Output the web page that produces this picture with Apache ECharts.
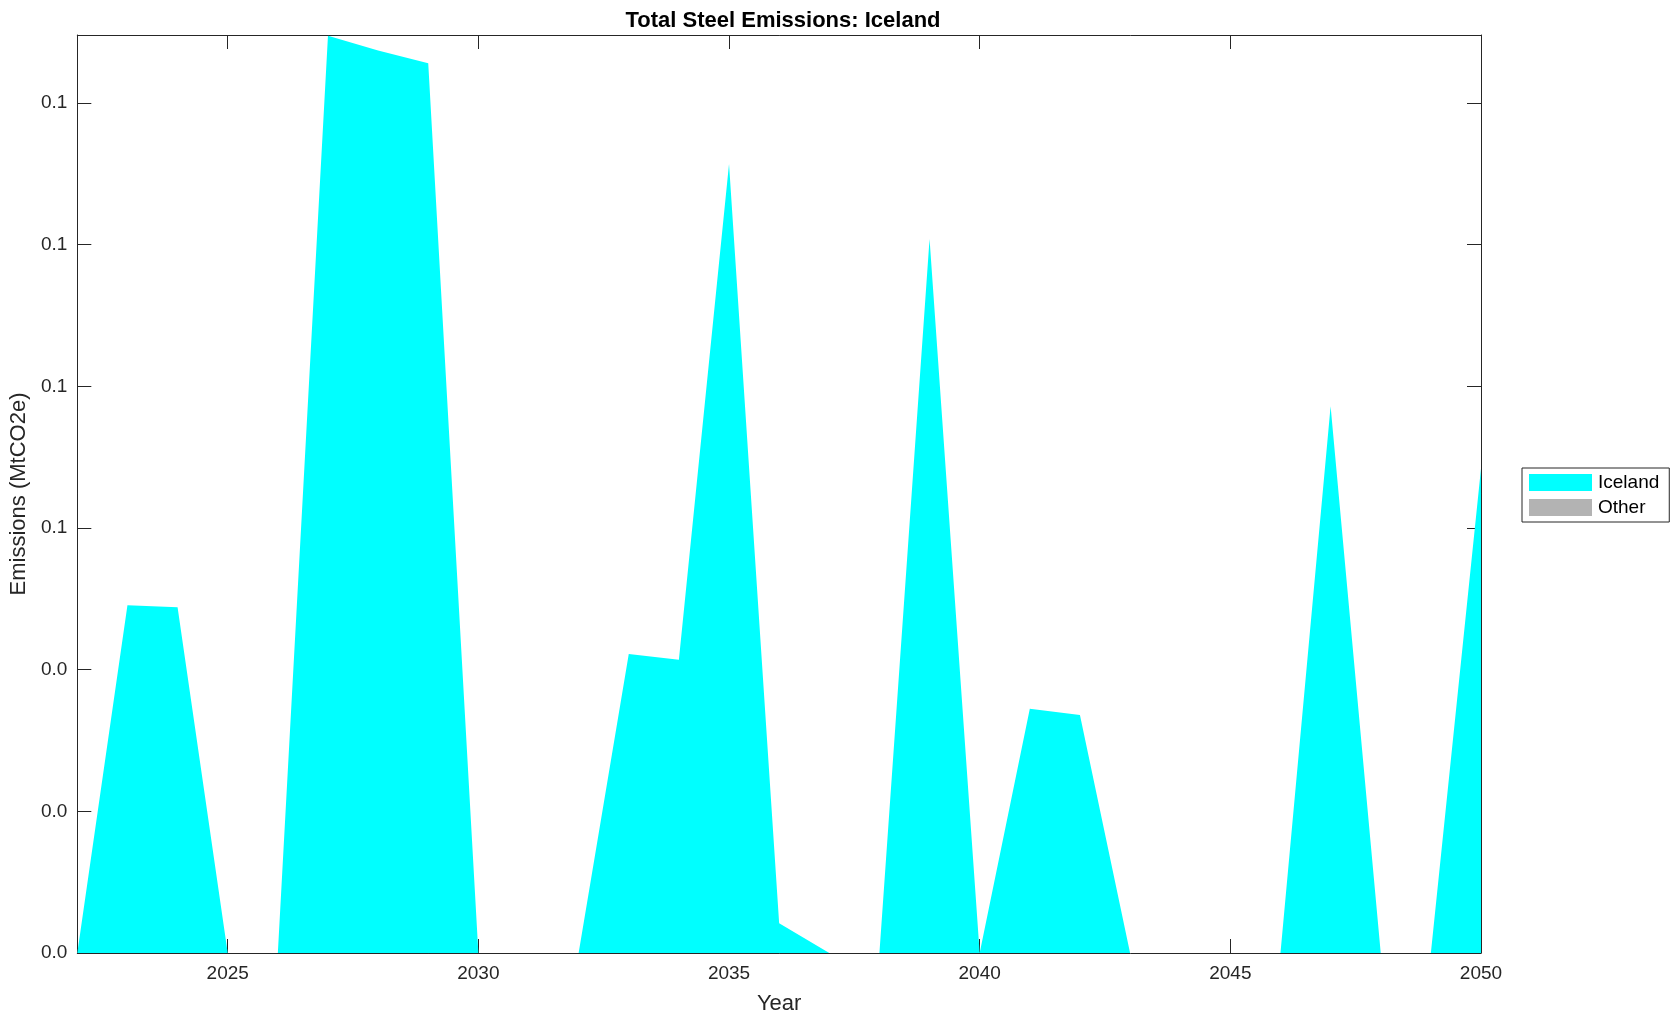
<!DOCTYPE html>
<html>
<head>
<meta charset="utf-8">
<script src="https://cdn.jsdelivr.net/npm/echarts@6/dist/echarts.min.js"></script>
<style>
  html, body { margin: 0; padding: 0; background: #fff; }
  #chart { width: 1679px; height: 1021px; }
</style>
</head>
<body>
<div id="chart"></div>
<script>
const years = [];
for (let y = 2022; y <= 2050; y++) years.push(String(y));

// MtCO2e, 2022..2050
const iceland = [0, 0.0491, 0.0488, 0, 0, 0.1295, 0.1274, 0.1256, 0, 0,
  0, 0.0422, 0.0414, 0.1114, 0.0042, 0, 0, 0.1008, 0, 0.0345,
  0.0336, 0, 0, 0, 0, 0.0772, 0, 0, 0.0684];
const other = years.map(() => 0);

const yMax = 0.1296;

const textColor = '#262626';
const font = 'Liberation Sans, Arial, Helvetica, sans-serif';

let chart = echarts.init(document.getElementById('chart'));

const showTick = (i, v) => Number(v) % 5 === 0;

let xBase = {
  type: 'category',
  data: years,
  boundaryGap: false,
  axisLine: { show: true, onZero: false, lineStyle: { color: textColor, width: 1 } },
  axisTick: { show: true, inside: true, length: 14, interval: showTick, lineStyle: { color: textColor } },
  splitLine: { show: false }
};

let yBase = {
  type: 'value',
  min: 0,
  max: yMax,
  interval: 0.02,
  axisLine: { show: true, onZero: false, lineStyle: { color: textColor, width: 1 } },
  axisTick: { show: true, inside: true, length: 14, lineStyle: { color: textColor } },
  splitLine: { show: false }
};

let option = {
  animation: false,
  backgroundColor: '#fff',
  title: {
    text: 'Total Steel Emissions: Iceland',
    left: 778,
    top: 5,
    textAlign: 'center',
    textStyle: { fontFamily: font, fontSize: 22, fontWeight: 'bold', color: '#000' }
  },
  legend: {
    orient: 'vertical',
    left: 1522,
    top: 468,
    icon: 'rect',
    itemWidth: 63,
    itemHeight: 17,
    itemGap: 6,
    padding: [5, 10, 5, 7],
    borderColor: textColor,
    borderWidth: 1,
    textStyle: { fontFamily: font, fontSize: 19, color: '#000', padding: [0, 0, 0, 1] },
    data: ['Iceland', 'Other']
  },
  grid: { left: 76, top: 35, width: 1405, height: 918, containLabel: false },
  xAxis: [
    Object.assign({}, xBase, {
      position: 'bottom',
      name: 'Year',
      nameLocation: 'middle',
      nameGap: 40,
      nameTextStyle: { fontFamily: font, fontSize: 22, color: textColor },
      axisLabel: { show: true, interval: showTick, margin: 11, fontFamily: font, fontSize: 19, color: textColor }
    }),
    Object.assign({}, xBase, { position: 'top', axisLabel: { show: false } })
  ],
  yAxis: [
    Object.assign({}, yBase, {
      position: 'left',
      name: 'Emissions (MtCO2e)',
      nameLocation: 'middle',
      nameGap: 46,
      nameTextStyle: { fontFamily: font, fontSize: 22, color: textColor },
      axisLabel: {
        show: true, margin: 10, fontFamily: font, fontSize: 19, color: textColor,
        showMaxLabel: false,
        formatter: v => v.toFixed(1)
      }
    }),
    Object.assign({}, yBase, { position: 'right', axisLabel: { show: false } })
  ],
  series: [
    {
      name: 'Iceland',
      type: 'line',
      stack: 'total',
      data: iceland,
      showSymbol: false,
      symbol: 'none',
      lineStyle: { width: 0 },
      itemStyle: { color: '#00FFFF' },
      areaStyle: { color: '#00FFFF', opacity: 1 }
    },
    {
      name: 'Other',
      type: 'line',
      stack: 'total',
      data: other,
      showSymbol: false,
      symbol: 'none',
      lineStyle: { width: 0 },
      itemStyle: { color: '#B3B3B3' },
      areaStyle: { color: '#B3B3B3', opacity: 1 }
    }
  ]
};

chart.setOption(option);
</script>
</body>
</html>
